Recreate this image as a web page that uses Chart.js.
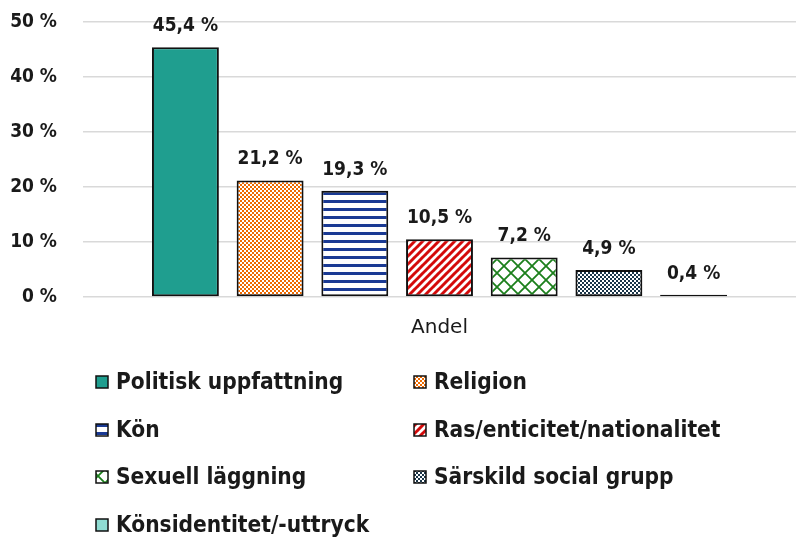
<!DOCTYPE html>
<html>
  <head>
    <script src="https://cdn.jsdelivr.net/npm/chart.js@4.4.0/dist/chart.umd.min.js"></script>
    <style>
      body {
        margin: 0;
        background: #ffffff;
      }

      /* chart fills the whole window */
      .chart-container {
        width: 796px;
        height: 537px;
      }
    </style>
  </head>
  <body>
    <div class="chart-container">
      <canvas id="myChart"></canvas>
    </div>
    <script>
      // chart data
      var categories = ["Andel"];
      var seriesNames = [
        "Politisk uppfattning",
        "Religion",
        "Kön",
        "Ras/enticitet/nationalitet",
        "Sexuell läggning",
        "Särskild social grupp",
        "Könsidentitet/-uttryck",
      ];
      var seriesValues = [45.4, 21.2, 19.3, 10.5, 7.2, 4.9, 0.4];
      var yTicks = [0, 10, 20, 30, 40, 50];

      var FONT = "'DejaVu Sans Condensed', 'DejaVu Sans', sans-serif";
      var TEXT = "#1a1a1a";

      // small tiles used as fill patterns
      function makePattern(size, draw) {
        var c = document.createElement("canvas");
        c.width = size;
        c.height = size;
        var g = c.getContext("2d");
        g.fillStyle = "#ffffff";
        g.fillRect(0, 0, size, size);
        draw(g, size);
        return g.createPattern(c, "repeat");
      }

      function checker(color, cell) {
        return makePattern(cell * 2, function (g) {
          g.fillStyle = color;
          g.fillRect(0, 0, cell, cell);
          g.fillRect(cell, cell, cell, cell);
        });
      }

      var fills = [
        "#1f9e8f",
        checker("#ee6a00", 2),
        makePattern(8, function (g) {
          g.fillStyle = "#1a3a94";
          g.fillRect(0, 0, 8, 3);
        }),
        makePattern(8, function (g, s) {
          g.strokeStyle = "#d40a0a";
          g.lineWidth = 3;
          [-s, 0, s].forEach(function (o) {
            g.beginPath();
            g.moveTo(o - 1, s + 1);
            g.lineTo(o + s + 1, -1);
            g.stroke();
          });
        }),
        makePattern(14, function (g, s) {
          g.strokeStyle = "#1b7f1b";
          g.lineWidth = 1.8;
          g.beginPath();
          g.moveTo(0, 0);
          g.lineTo(s, s);
          g.moveTo(s, 0);
          g.lineTo(0, s);
          g.stroke();
        }),
        checker("#1a3548", 2),
        "#8fdcd2",
      ];

      var datasets = seriesNames.map(function (name, i) {
        return {
          label: name,
          data: [seriesValues[i]],
          backgroundColor: fills[i],
          borderColor: "#111111",
          borderWidth: 2,
          borderSkipped: false,
          categoryPercentage: 0.8315,
          barPercentage: 0.79,
        };
      });

      function fmt(v) {
        return v.toFixed(1).replace(".", ",") + " %";
      }

      // value labels above each bar
      var valueLabels = {
        id: "valueLabels",
        afterDatasetsDraw: function (chart) {
          var ctx = chart.ctx;
          ctx.save();
          ctx.font = "bold 19px " + FONT;
          ctx.fillStyle = TEXT;
          ctx.textAlign = "center";
          ctx.textBaseline = "alphabetic";
          chart.data.datasets.forEach(function (ds, i) {
            var bar = chart.getDatasetMeta(i).data[0];
            ctx.fillText(fmt(ds.data[0]), bar.x, bar.y - 16);
          });
          ctx.restore();
        },
      };

      // legend in two columns under the plot
      var gridLegend = {
        id: "gridLegend",
        afterDraw: function (chart) {
          var ctx = chart.ctx;
          var colX = [96, 414];
          var rowY = [382, 430, 477, 525];
          ctx.save();
          ctx.font = "bold 22.5px " + FONT;
          ctx.textBaseline = "middle";
          ctx.textAlign = "left";
          chart.data.datasets.forEach(function (ds, i) {
            var x = colX[i % 2];
            var y = rowY[Math.floor(i / 2)];
            ctx.fillStyle = ds.backgroundColor;
            ctx.fillRect(x, y - 6, 12, 12);
            ctx.strokeStyle = "#111111";
            ctx.lineWidth = 1.5;
            ctx.strokeRect(x, y - 6, 12, 12);
            ctx.fillStyle = TEXT;
            ctx.fillText(ds.label, x + 20, y + 1);
          });
          ctx.restore();
        },
      };

      var ctx = document.getElementById("myChart").getContext("2d");
      var chart = new Chart(ctx, {
        type: "bar",
        data: { labels: categories, datasets: datasets },
        plugins: [valueLabels, gridLegend],
        options: {
          responsive: true,
          maintainAspectRatio: false,
          animation: false,
          layout: { padding: { top: 22, right: 0, bottom: 186, left: 0 } },
          plugins: {
            legend: { display: false },
            tooltip: { enabled: false },
          },
          scales: {
            x: {
              grid: { display: false },
              border: { display: false },
              ticks: {
                padding: 11,
                color: TEXT,
                font: { family: "'DejaVu Sans', sans-serif", size: 20 },
              },
            },
            y: {
              min: 0,
              max: 50,
              afterFit: function (scale) {
                scale.width = 83;
              },
              afterBuildTicks: function (scale) {
                scale.ticks = yTicks.map(function (v) {
                  return { value: v };
                });
              },
              grid: {
                color: "#d9d9d9",
                lineWidth: 1.5,
                drawTicks: true,
                tickLength: 26,
                tickColor: "rgba(0,0,0,0)",
              },
              border: { display: false },
              ticks: {
                padding: 0,
                color: TEXT,
                font: { family: FONT, size: 19, weight: "bold" },
                callback: function (v) {
                  return v + " %";
                },
              },
            },
          },
        },
      });
    </script>
  </body>
</html>
